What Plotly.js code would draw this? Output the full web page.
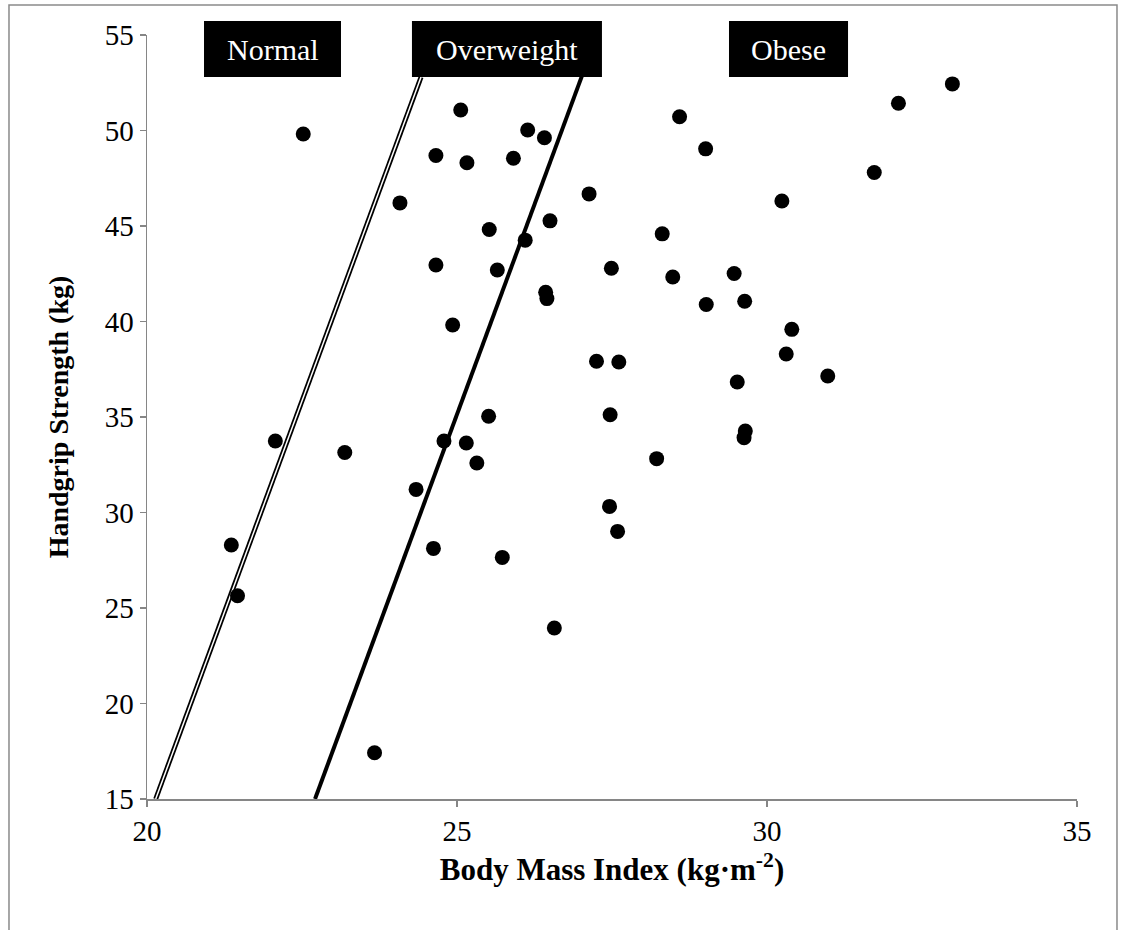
<!DOCTYPE html>
<html>
<head>
<meta charset="utf-8">
<script src="https://cdn.plot.ly/plotly-3.0.1.min.js"></script>
<style>
  html, body { margin: 0; padding: 0; background: #fff; }
  #chart { width: 1121px; height: 930px; }
</style>
</head>
<body>
<div id="chart"></div>
<script>
// Body Mass Index (kg·m-2) of each participant
const bmi = [
  22.52, 25.06, 26.14, 26.41, 24.66, 25.16, 25.91, 28.59, 29.01, 32.99,
  32.12, 27.13, 24.08, 30.24, 31.73, 25.52, 26.50, 26.10, 28.31, 24.66,
  25.65, 27.49, 28.48, 29.47, 29.64, 29.02, 26.43, 26.45, 24.93, 30.40,
  30.31, 27.25, 27.61, 29.52, 30.98, 25.51, 27.47, 22.07, 23.19, 24.79,
  25.15, 29.65, 29.63, 25.32, 28.22, 24.34, 27.46, 27.59, 21.36, 24.62,
  25.73, 21.46, 26.57, 23.67
];
// Handgrip strength (kg) of each participant
const hgs = [
  49.82, 51.07, 50.03, 49.62, 48.69, 48.31, 48.55, 50.72, 49.04, 52.44,
  51.43, 46.68, 46.21, 46.31, 47.80, 44.82, 45.27, 44.26, 44.59, 42.96,
  42.70, 42.79, 42.33, 42.51, 41.06, 40.89, 41.53, 41.20, 39.82, 39.59,
  38.30, 37.92, 37.88, 36.83, 37.15, 35.04, 35.12, 33.74, 33.14, 33.74,
  33.64, 34.27, 33.92, 32.59, 32.82, 31.21, 30.32, 29.01, 28.30, 28.12,
  27.65, 25.64, 23.95, 17.42
];
// Boundary lines (Normal / Overweight and Overweight / Obese)
const normalOverBmi = [20.14, 24.42];
const normalOverHgs = [15, 52.8];
const overObeseBmi = [22.71, 27.02];
const overObeseHgs = [15, 52.9];
// Category labels
const categoryLabels = ["Normal", "Overweight", "Obese"];
const xTicks = [20, 25, 30, 35];
const yTicks = [15, 20, 25, 30, 35, 40, 45, 50, 55];

const FONT = "Liberation Serif, Times New Roman, serif";
const AXIS_GRAY = "#868686";

const traces = [
  { x: normalOverBmi, y: normalOverHgs, mode: "lines", type: "scatter",
    line: { color: "#000", width: 5 }, hoverinfo: "skip", showlegend: false },
  { x: normalOverBmi, y: normalOverHgs, mode: "lines", type: "scatter",
    line: { color: "#fff", width: 1.5 }, hoverinfo: "skip", showlegend: false },
  { x: overObeseBmi, y: overObeseHgs, mode: "lines", type: "scatter",
    line: { color: "#000", width: 4 }, hoverinfo: "skip", showlegend: false },
  { x: bmi, y: hgs, mode: "markers", type: "scatter",
    marker: { color: "#000", size: 15, symbol: "circle" }, showlegend: false }
];

// label boxes in paper coordinates [x0, x1]
const boxSpans = [[0.0613, 0.2086], [0.2849, 0.4892], [0.6258, 0.7538]];
const boxY0 = 0.945, boxY1 = 1.0183;

const shapes = [
  { type: "rect", xref: "paper", yref: "paper", x0: -0.1484, x1: 1.043, y0: -0.2, y1: 1.0393,
    line: { color: "#8a8a8a", width: 1.5 }, fillcolor: "rgba(0,0,0,0)", layer: "below" }
];
const annotations = [];
categoryLabels.forEach((lab, i) => {
  const [a, b] = boxSpans[i];
  shapes.push({ type: "rect", xref: "paper", yref: "paper", x0: a, x1: b, y0: boxY0, y1: boxY1,
    line: { width: 0 }, fillcolor: "#000", layer: "above" });
  annotations.push({ xref: "paper", yref: "paper", x: (a + b) / 2, y: (boxY0 + boxY1) / 2,
    xanchor: "center", yanchor: "middle", text: lab, showarrow: false,
    font: { family: FONT, size: 30, color: "#fff" } });
});

const axisCommon = {
  showline: true, linecolor: AXIS_GRAY, linewidth: 1.5,
  ticks: "outside", tickcolor: AXIS_GRAY, tickwidth: 1.5, ticklen: 6,
  showgrid: false, zeroline: false, automargin: false,
  tickfont: { family: FONT, size: 29, color: "#000" }
};

const layout = {
  width: 1121, height: 930,
  margin: { l: 147, r: 44, t: 35, b: 131 },
  paper_bgcolor: "#fff", plot_bgcolor: "#fff",
  font: { family: FONT },
  xaxis: Object.assign({}, axisCommon, {
    range: [20, 35], tickvals: xTicks, ticktext: xTicks.map(String),
    title: { text: "Body Mass Index (kg·m<sup>-2</sup>)", standoff: 12,
      font: { family: FONT, size: 31, color: "#000", weight: "bold" } }
  }),
  yaxis: Object.assign({}, axisCommon, {
    range: [15, 55], tickvals: yTicks, ticktext: yTicks.map(String),
    title: { text: "Handgrip Strength (kg)", standoff: 28,
      font: { family: FONT, size: 28, color: "#000", weight: "bold" } }
  }),
  shapes: shapes,
  annotations: annotations,
  showlegend: false
};

Plotly.newPlot("chart", traces, layout, { displayModeBar: false, staticPlot: true });
</script>
</body>
</html>
